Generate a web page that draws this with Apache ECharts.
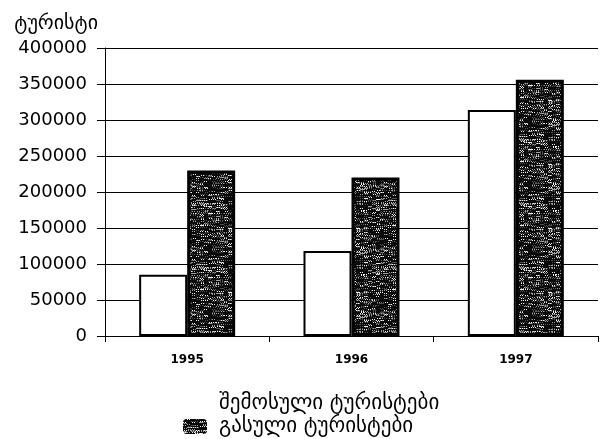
<!DOCTYPE html>
<html>
<head>
<meta charset="utf-8">
<script src="https://cdn.jsdelivr.net/npm/echarts@6/dist/echarts.min.js"></script>
<style>
html,body{margin:0;padding:0;background:#fff;}
#chart{width:610px;height:439px;}
</style>
</head>
<body>
<div id="chart"></div>
<script>
var categories = ['1995', '1996', '1997'];
var arrivals = [85000, 118000, 314000];
var departures = [230000, 220000, 356000];
var seriesNames = ['შემოსული ტურისტები', 'გასული ტურისტები'];
var yAxisName = 'ტურისტი';

// speckled dark texture (deterministic hash noise, short horizontal streaks)
function makePattern() {
  var c = document.createElement('canvas');
  c.width = 64; c.height = 64;
  var ctx = c.getContext('2d');
  var img = ctx.createImageData(64, 64);
  for (var y = 0; y < 64; y++) {
    for (var x = 0; x < 64; x++) {
      var bx = x >> 2, by = y;
      var h = (bx * 374761393 + by * 668265263 + (x & 1) * 97) | 0;
      h = (h ^ (h >>> 13)) * 1274126177 | 0;
      h = (h ^ (h >>> 16)) >>> 0;
      var r = (h % 1000) / 1000;
      var v = r < 0.70 ? 10 : (r < 0.84 ? 80 : (r < 0.93 ? 160 : 240));
      var i = (y * 64 + x) * 4;
      img.data[i] = v; img.data[i + 1] = v; img.data[i + 2] = v; img.data[i + 3] = 255;
    }
  }
  ctx.putImageData(img, 0, 0);
  return c;
}
var pattern = { image: makePattern(), repeat: 'repeat' };

var legendText = { fontFamily: 'DejaVu Sans', fontSize: 21, color: '#000', padding: [0, 0, 0, 7] };

var chart = echarts.init(document.getElementById('chart'), null, { renderer: 'canvas' });
chart.setOption({
  animation: false,
  backgroundColor: '#fff',
  grid: { left: 105, right: 12, top: 48, bottom: 103, containLabel: false },
  legend: [
    {
      left: 178, top: 388, itemWidth: 24, itemHeight: 15,
      textStyle: legendText,
      data: [{ name: seriesNames[0], itemStyle: { color: '#fff', borderWidth: 0 } }]
    },
    {
      left: 178, top: 411, itemWidth: 24, itemHeight: 15,
      textStyle: legendText,
      data: [{ name: seriesNames[1], itemStyle: { borderWidth: 0 } }]
    }
  ],
  xAxis: {
    type: 'category',
    data: categories,
    axisLine: { lineStyle: { color: '#000', width: 1 } },
    axisTick: { show: true, length: 6, lineStyle: { color: '#000' } },
    axisLabel: { color: '#000', fontFamily: 'DejaVu Sans', fontWeight: 'bold', fontSize: 12, margin: 18 }
  },
  yAxis: {
    type: 'value',
    min: 0, max: 400000, interval: 50000,
    name: yAxisName,
    nameLocation: 'end',
    nameGap: 14,
    nameTextStyle: { fontFamily: 'DejaVu Sans', fontSize: 20, color: '#000', align: 'right', padding: [0, 7, 0, 0] },
    axisLine: { show: true, lineStyle: { color: '#000', width: 1 } },
    axisTick: { show: true, length: 8, lineStyle: { color: '#000' } },
    axisLabel: {
      color: '#000', fontFamily: 'DejaVu Sans', fontSize: 18, margin: 18,
      formatter: function (v) { return String(v); }
    },
    splitLine: { show: true, lineStyle: { color: '#000', width: 1 } }
  },
  series: [
    {
      name: seriesNames[0], type: 'bar', data: arrivals,
      barWidth: 48, barGap: '0%',
      itemStyle: { color: '#fff', borderColor: '#000', borderWidth: 2 }
    },
    {
      name: seriesNames[1], type: 'bar', data: departures,
      barWidth: 48,
      itemStyle: { color: pattern, borderColor: '#000', borderWidth: 3 }
    }
  ]
});
</script>
</body>
</html>
